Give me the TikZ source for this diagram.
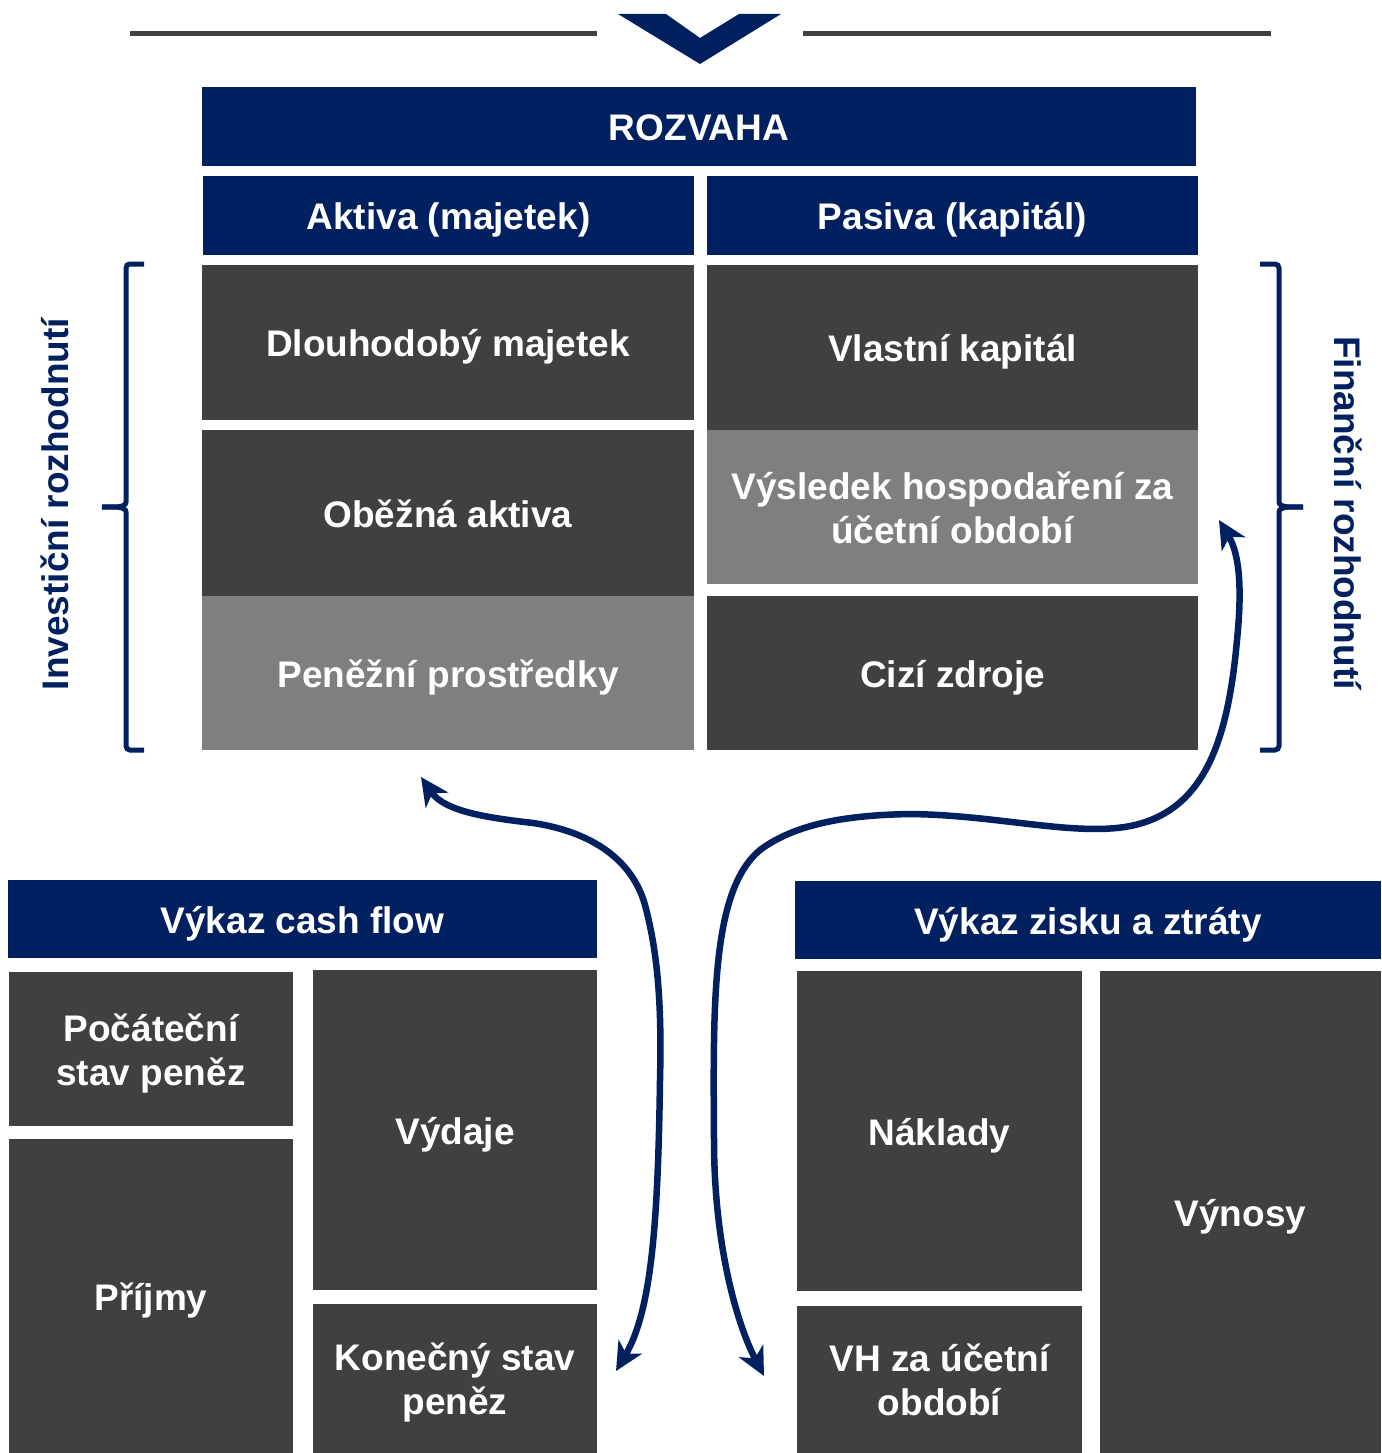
\documentclass[tikz,border=0pt]{standalone}
\usepackage{fontspec}
\setmainfont{Liberation Sans}
\usetikzlibrary{arrows.meta}
\definecolor{navy}{RGB}{0,32,96}
\definecolor{darkbox}{RGB}{64,64,64}
\definecolor{lightbox}{RGB}{127,127,127}
\newcommand{\twoln}[2]{\begin{tabular}[b]{@{}c@{}}#1\\#2\end{tabular}}
\begin{document}
\begin{tikzpicture}[x=1pt,y=-1pt,
  base/.style={inner sep=0pt,outer sep=0pt,text=white,
    font=\fontsize{37}{44}\selectfont\bfseries,text height=28pt,text depth=0pt},
  twolines/.style={text height=72pt,text depth=0pt},
  hdr/.style={base,fill=navy},
  dbox/.style={base,fill=darkbox},
  lbox/.style={base,fill=lightbox},
  vlabel/.style={inner sep=0pt,text=navy,font=\fontsize{37}{44}\selectfont\bfseries},
  brace/.style={draw=navy,line width=5pt,rounded corners=4pt},
  flow/.style={draw=navy,line width=6.5pt,
    {Stealth[length=28pt,width=27pt,inset=8pt]}-{Stealth[length=28pt,width=27pt,inset=8pt]}},
  rule/.style={draw=darkbox,line width=5pt}]
\useasboundingbox (0,0) rectangle (1381,1453);

% top rules and chevron
\draw[rule] (130,34) -- (597,34);
\draw[rule] (803,34) -- (1271,34);
\fill[navy] (618,14) -- (700,64) -- (781,14) -- (739,14) -- (700,38) -- (666,14) -- cycle;

% ROZVAHA
\node[hdr,minimum width=994pt,minimum height=79pt] (rozvaha) at (699,126.5) {ROZVAHA};
\node[hdr,minimum width=491pt,minimum height=79pt] (aktiva) at (448.5,215.5) {Aktiva (majetek)};
\node[hdr,minimum width=491pt,minimum height=79pt] (pasiva) at (952.5,215.5) {Pasiva (kapitál)};

\node[dbox,minimum width=492pt,minimum height=155pt] (dlouh) at (448,342.5) {Dlouhodobý majetek};
\node[dbox,minimum width=492pt,minimum height=166pt] (obezna) at (448,513) {Oběžná aktiva};
\node[lbox,minimum width=492pt,minimum height=154pt] (penez) at (448,673) {Peněžní prostředky};

\node[dbox,minimum width=491pt,minimum height=165pt] (vlastni) at (952.5,347.5) {Vlastní kapitál};
\node[lbox,twolines,minimum width=491pt,minimum height=154pt] (vysledek) at (952.5,507) {\twoln{Výsledek hospodaření za}{účetní období}};
\node[dbox,minimum width=491pt,minimum height=154pt] (cizi) at (952.5,673) {Cizí zdroje};

% braces
\draw[brace] (144,264) -- (126,264) -- (126,498) to[out=-90,in=0] (102,507);
\draw[brace] (102,507) to[out=0,in=90] (126,516) -- (126,750) -- (144,750);
\draw[brace] (1260,264) -- (1279,264) -- (1279,498) to[out=-90,in=180] (1303,507);
\draw[brace] (1303,507) to[out=180,in=90] (1279,516) -- (1279,750) -- (1260,750);

\node[vlabel,rotate=90] (invest) at (55,504) {Investiční rozhodnutí};
\node[vlabel,rotate=-90] (financ) at (1348,513) {Finanční rozhodnutí};

% Cash flow
\node[hdr,minimum width=589pt,minimum height=78pt] (cf) at (302.5,919) {Výkaz cash flow};
\node[dbox,twolines,minimum width=284pt,minimum height=154pt] (pocat) at (151,1049) {\twoln{Počáteční}{stav peněz}};
\node[dbox,minimum width=284pt,minimum height=314pt] (prijmy) at (151,1296) {Příjmy};
\node[dbox,minimum width=284pt,minimum height=320pt] (vydaje) at (455,1130) {Výdaje};
\node[dbox,twolines,minimum width=284pt,minimum height=149pt] (konec) at (455,1378.5) {\twoln{Konečný stav}{peněz}};

% Profit and loss
\node[hdr,minimum width=586pt,minimum height=78pt] (vzz) at (1088,920) {Výkaz zisku a ztráty};
\node[dbox,minimum width=285pt,minimum height=320pt] (naklady) at (939.5,1131) {Náklady};
\node[dbox,twolines,minimum width=285pt,minimum height=147pt] (vh) at (939.5,1379.5) {\twoln{VH za účetní}{období}};
\node[dbox,minimum width=281pt,minimum height=482pt] (vynosy) at (1240.5,1212) {Výnosy};

% arrow ends
\coordinate (lt) at (421,777);
\coordinate (lb) at (616,1371);
\coordinate (rt) at (1219,520);
\coordinate (rb) at (764,1376);

\draw[flow] (lt) .. controls (445,812) and (490,818) .. (533,823)
  .. controls (580,830) and (630,852) .. (645,905)
  .. controls (657,950) and (662,1000) .. (660,1080)
  .. controls (658,1220) and (652,1310) .. (lb);

\draw[flow] (rb) .. controls (735,1320) and (714,1240) .. (714,1140)
  .. controls (713,1000) and (712,890) .. (760,850)
  .. controls (800,820) and (860,815) .. (910,814)
  .. controls (1000,815) and (1080,838) .. (1135,825)
  .. controls (1205,808) and (1228,740) .. (1237,640)
  .. controls (1242,590) and (1240,555) .. (rt);
\end{tikzpicture}
\end{document}
